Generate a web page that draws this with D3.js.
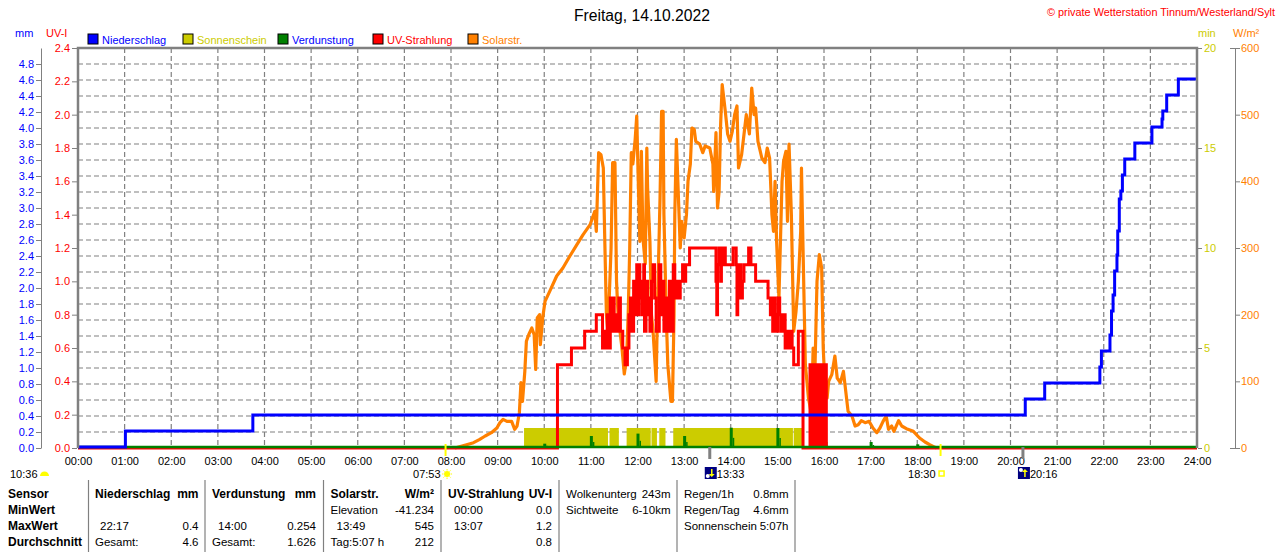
<!DOCTYPE html>
<html>
<head>
<meta charset="utf-8">
<script src="https://cdn.jsdelivr.net/npm/d3@7"></script>
<style>
body { margin: 0; background: #fff; }
svg { display: block; font-family: "Liberation Sans", Arial, sans-serif; }
</style>
</head>
<body>
<svg id="chart" width="1280" height="552"></svg>
<script>
// ===== Data =====
const titleText = "Freitag, 14.10.2022";
const copyrightText = "© private Wetterstation Tinnum/Westerland/Sylt";

const hourTicks = ["00:00","01:00","02:00","03:00","04:00","05:00","06:00","07:00","08:00","09:00","10:00","11:00",
  "12:00","13:00","14:00","15:00","16:00","17:00","18:00","19:00","20:00","21:00","22:00","23:00","24:00"];
const mmTicks = [0,0.2,0.4,0.6,0.8,1.0,1.2,1.4,1.6,1.8,2.0,2.2,2.4,2.6,2.8,3.0,3.2,3.4,3.6,3.8,4.0,4.2,4.4,4.6,4.8];
const uvTicks = [0,0.2,0.4,0.6,0.8,1.0,1.2,1.4,1.6,1.8,2.0,2.2,2.4];
const minTicks = [0,5,10,15,20];
const wTicks = [0,100,200,300,400,500,600];

const legendNames = ["Niederschlag","Sonnenschein","Verdunstung","UV-Strahlung","Solarstr."];

// Niederschlag, cumulative mm (step)
const rain = [["00:00",0],["01:01",0.2],["03:45",0.4],["20:19",0.6],["20:44",0.8],["21:55",1.0],["21:57",1.2],
  ["22:08",1.4],["22:10",1.7],["22:12",1.9],["22:14",2.2],["22:17",2.4],["22:18",2.7],["22:20",3.1],["22:22",3.2],
  ["22:24",3.4],["22:27",3.6],["22:40",3.8],["23:02",4.0],["23:15",4.1],["23:16",4.2],["23:21",4.4],["23:36",4.6],["24:00",4.6]];

// Sonnenschein periods (1 min per minute)
const sunshine = [["09:34","11:22"],["11:24","11:36"],["11:46","12:17"],["12:18","12:25"],["12:28","12:36"],
  ["12:46","15:20"],["15:21","15:33"],["16:00","16:04"]];

// Verdunstung, hourly mm
const evap = [["01:00",0.02],["02:00",0.02],["03:00",0.02],["04:00",0.02],["05:00",0.02],["06:00",0.02],["07:00",0.02],
  ["08:00",0.02],["09:00",0.02],["10:00",0.054],["11:00",0.15],["12:00",0.18],["13:00",0.15],["14:00",0.254],
  ["15:00",0.25],["16:00",0.15],["17:00",0.075],["18:00",0.046],["19:00",0.02],["20:00",0.02],["21:00",0.02],
  ["22:00",0.02],["23:00",0.02]];

// UV-Strahlung, UV-I (step)
const uv = [["00:00",0],["10:17",0.5],["10:35",0.6],["10:52",0.7],["11:07",0.8],
  ["11:15",0.6],["11:17",0.7],["11:19",0.6],["11:21",0.8],["11:23",0.6],["11:25",0.9],["11:27",0.7],["11:28",0.9],
  ["11:30",0.7],["11:32",0.8],["11:34",0.7],["11:36",0.9],["11:38",0.7],["11:41",0.6],["11:44",0.5],["11:47",0.6],
  ["11:49",0.8],["11:50",0.7],["11:51",0.9],["11:53",0.7],["11:55",1.0],["11:57",0.8],["11:59",1.1],["12:00",0.8],
  ["12:02",1.1],["12:03",0.9],["12:05",1.0],["12:06",0.8],["12:08",1.1],["12:09",0.7],["12:11",1.0],["12:13",0.8],
  ["12:14",0.9],["12:16",0.7],["12:18",1.0],["12:20",1.1],["12:22",0.9],["12:24",0.7],["12:28",1.1],["12:30",0.8],
  ["12:32",1.0],["12:34",0.7],["12:36",0.9],["12:38",0.7],["12:41",1.0],["12:43",0.7],["12:46",1.1],["12:48",0.9],
  ["12:50",1.0],["12:53",0.9],["12:55",1.0],["12:58",1.1],["13:00",1.0],["13:02",1.1],["13:07",1.2],
  ["13:41",1.0],["13:42",0.8],["13:43",1.1],["13:45",1.2],["13:47",1.0],["13:48",1.2],["13:50",1.1],["13:52",1.2],
  ["13:53",1.1],["14:03",1.2],["14:07",1.1],["14:08",0.8],["14:09",1.0],["14:10",0.9],["14:11",1.1],["14:13",0.9],
  ["14:15",1.0],["14:17",1.1],["14:23",1.2],["14:26",1.1],["14:32",1.0],["14:48",0.9],["14:51",0.8],["14:53",0.9],
  ["14:54",0.7],["14:56",0.9],["14:57",0.8],["14:59",0.7],["15:01",0.9],["15:03",0.8],["15:05",0.7],["15:08",0.8],
  ["15:10",0.6],["15:12",0.7],["15:14",0.6],["15:17",0.7],["15:19",0.6],["15:21",0.5],["15:27",0.7],["15:33",0],
  ["15:42",0.5],["15:44",0],["15:45",0.5],["15:47",0],["15:48",0.5],["15:50",0],["15:51",0.5],["15:53",0],
  ["15:54",0.5],["15:56",0],["15:57",0.5],["15:59",0],["16:00",0.5],["16:03",0],["24:00",0]];

// Solarstrahlung, W/m²
const solar = [["08:05",0],["08:20",5],["08:29",8],["08:37",13],["08:44",18],["08:52",23],["08:59",30],["09:03",38],
  ["09:07",43],["09:12",40],["09:18",40],["09:22",28],["09:25",33],["09:28",53],["09:30",98],["09:32",70],["09:35",115],
  ["09:37",160],["09:40",170],["09:44",180],["09:47",170],["09:49",118],["09:51",195],["09:54",200],["09:55",155],
  ["09:58",195],["10:01",220],["10:07",235],["10:16",258],["10:24",270],["10:33",288],["10:42",305],["10:50",320],
  ["10:59",335],["11:05",355],["11:07",325],["11:10",443],["11:13",440],["11:16",420],["11:18",306],["11:20",200],
  ["11:22",175],["11:26",300],["11:28",428],["11:31",428],["11:33",250],["11:35",200],["11:40",150],["11:43",111],
  ["11:46",135],["11:48",200],["11:50",300],["11:52",443],["11:54",426],["11:57",463],["11:59",498],["12:01",400],
  ["12:03",310],["12:05",445],["12:07",315],["12:10",276],["12:12",450],["12:13",390],["12:16",310],["12:18",200],
  ["12:20",175],["12:24",100],["12:26",225],["12:29",375],["12:31",505],["12:33",505],["12:34",350],["12:37",200],
  ["12:39",125],["12:43",70],["12:45",70],["12:47",200],["12:48",350],["12:50",463],["12:53",365],["12:55",300],
  ["12:57",340],["13:00",315],["13:03",350],["13:05",400],["13:08",426],["13:10",480],["13:13",478],["13:15",460],
  ["13:20",456],["13:24",443],["13:27",453],["13:33",450],["13:37",426],["13:38",385],["13:41",473],["13:43",360],
  ["13:45",385],["13:47",486],["13:49",545],["13:53",505],["13:56",471],["13:59",460],["14:02",475],["14:05",500],
  ["14:08",513],["14:10",420],["14:14",440],["14:18",480],["14:20",500],["14:24",471],["14:27",540],["14:30",500],
  ["14:32",510],["14:35",460],["14:40",435],["14:44",428],["14:47",450],["14:50",435],["14:53",350],["14:55",325],
  ["14:57",400],["14:59",310],["15:02",225],["15:06",400],["15:08",430],["15:11",445],["15:13",340],["15:15",456],
  ["15:18",350],["15:21",175],["15:24",205],["15:27",250],["15:30",325],["15:31",420],["15:33",300],["15:36",125],
  ["15:40",75],["15:44",50],["15:46",150],["15:48",100],["15:51",250],["15:54",290],["15:57",270],["15:59",150],
  ["16:01",100],["16:04",75],["16:06",100],["16:10",110],["16:14",138],["16:17",105],["16:21",98],["16:25",115],
  ["16:28",85],["16:31",55],["16:36",48],["16:40",33],["16:44",35],["16:48",41],["16:53",38],["16:58",40],
  ["17:03",30],["17:08",23],["17:12",30],["17:16",40],["17:20",48],["17:23",28],["17:27",33],["17:30",25],
  ["17:36",41],["17:40",33],["17:46",29],["17:55",25],["18:03",15],["18:10",9],["18:16",5],["18:23",1],["18:25",0]];

// Sun / moon events
const sunrise = "07:53", sunset = "18:30";
const moonEvents = [["13:33","set"],["20:16","rise"]];
const moonPrev = "10:36";

// Table
const tableRowNames = ["Sensor","MinWert","MaxWert","Durchschnitt"];
const tableNiederschlag = [["Niederschlag","mm"],["",""],["22:17","0.4"],["Gesamt:","4.6"]];
const tableVerdunstung = [["Verdunstung","mm"],["",""],["14:00","0.254"],["Gesamt:","1.626"]];
const tableSolar = [["Solarstr.","W/m²"],["Elevation","-41.234"],["13:49","545"],["Tag:5:07 h","212"]];
const tableUV = [["UV-Strahlung","UV-I"],["00:00","0.0"],["13:07","1.2"],["","0.8"]];
const tableWolken = [["Wolkenunterg","243m"],["Sichtweite","6-10km"],["",""],["",""]];
const tableRegen = [["Regen/1h","0.8mm"],["Regen/Tag","4.6mm"],["Sonnenschein","5:07h"],["",""]];

// ===== Layout =====
const C = { blue:"#0000ff", yellow:"#cccc00", green:"#008000", red:"#ff0000", orange:"#ff8000", grid:"#808080" };
const PL = 78, PR = 1197, PT = 48, PB = 448;
const toMin = s => { const [h, m] = s.split(":").map(Number); return h * 60 + m; };

const svg = d3.select("#chart");
const x = d3.scaleLinear().domain([0, 1440]).range([PL, PR]);
const yMM = d3.scaleLinear().domain([0, 5]).range([PB, PT]);
const yUV = d3.scaleLinear().domain([0, 2.4]).range([PB, PT]);
const yMin = d3.scaleLinear().domain([0, 20]).range([PB, PT]);
const yW = d3.scaleLinear().domain([0, 600]).range([PB, PT]);

// gridlines
const grid = svg.append("g").attr("stroke", C.grid).attr("stroke-width", 1.2).attr("stroke-dasharray", "5,3");
grid.selectAll("line.h").data(mmTicks.slice(1)).join("line").attr("class","h")
  .attr("x1", PL).attr("x2", PR).attr("y1", d => yMM(d)).attr("y2", d => yMM(d));
grid.selectAll("line.v").data(hourTicks.slice(1, -1)).join("line").attr("class","v")
  .attr("x1", d => x(toMin(d))).attr("x2", d => x(toMin(d))).attr("y1", PT).attr("y2", PB);

// Sonnenschein
svg.append("g").selectAll("rect").data(sunshine).join("rect")
  .attr("x", d => x(toMin(d[0]))).attr("width", d => x(toMin(d[1])) - x(toMin(d[0])))
  .attr("y", yMin(1)).attr("height", yMin(0) - yMin(1)).attr("fill", C.yellow);

// Verdunstung spikes
const ev = svg.append("g").attr("fill", C.green);
ev.selectAll("rect.t").data(evap).join("rect").attr("class","t")
  .attr("x", d => x(toMin(d[0])) - 1).attr("width", 3)
  .attr("y", d => yMM(d[1])).attr("height", d => yMM(0) - yMM(d[1]));
ev.selectAll("rect.s").data(evap).join("rect").attr("class","s")
  .attr("x", d => x(toMin(d[0])) + 2).attr("width", 1.5)
  .attr("y", d => yMM(d[1] / 2)).attr("height", d => yMM(0) - yMM(d[1] / 2));

// Solarstrahlung
svg.append("path").datum(solar)
  .attr("fill", "none").attr("stroke", C.orange).attr("stroke-width", 3.2).attr("stroke-linejoin", "round")
  .attr("d", d3.line().x(d => x(toMin(d[0]))).y(d => yW(d[1])));

// UV
svg.append("path").datum(uv)
  .attr("fill", "none").attr("stroke", C.red).attr("stroke-width", 3)
  .attr("d", d3.line().curve(d3.curveStepAfter).x(d => x(toMin(d[0]))).y(d => yUV(d[1])));

// green baseline
svg.append("line").attr("x1", PL).attr("x2", PR).attr("y1", PB - 1).attr("y2", PB - 1)
  .attr("stroke", C.green).attr("stroke-width", 2.5);

// Niederschlag
svg.append("path").datum(rain)
  .attr("fill", "none").attr("stroke", C.blue).attr("stroke-width", 3)
  .attr("d", d3.line().curve(d3.curveStepAfter).x(d => x(toMin(d[0]))).y(d => yMM(d[1]) - 1));

// frame
const frame = svg.append("g").attr("stroke", C.grid).attr("stroke-width", 2.5).attr("fill", "none");
frame.append("path").attr("d", `M${PL},${PB}V${PT}H${PR}V${PB}`);

// axes
function styleAxis(g, color) {
  g.selectAll(".tick line").attr("stroke", C.grid);
  g.selectAll(".tick text").attr("fill", color).attr("font-size", 11)
    .attr("font-family", "'Liberation Sans', Arial, sans-serif");
  g.select(".domain").attr("stroke", C.grid);
}
const axMM = svg.append("g").attr("transform", "translate(41,0)")
  .call(d3.axisLeft(yMM).tickValues(mmTicks).tickFormat(d3.format(".1f")).tickSize(5).tickPadding(2).tickSizeOuter(0));
styleAxis(axMM, C.blue);
const axUV = svg.append("g").attr("transform", `translate(${PL - 1},0)`)
  .call(d3.axisLeft(yUV).tickValues(uvTicks).tickFormat(d3.format(".1f")).tickSize(5).tickPadding(2).tickSizeOuter(0));
styleAxis(axUV, C.red);
axUV.select(".domain").remove();
const axMin = svg.append("g").attr("transform", `translate(${PR + 1},0)`)
  .call(d3.axisRight(yMin).tickValues(minTicks).tickSize(4).tickPadding(2).tickSizeOuter(0));
styleAxis(axMin, C.yellow);
axMin.select(".domain").remove();
const axW = svg.append("g").attr("transform", "translate(1235,0)")
  .call(d3.axisRight(yW).tickValues(wTicks).tickSize(5).tickPadding(1).tickSizeOuter(-5));
styleAxis(axW, C.orange);
const axX = svg.append("g").attr("transform", `translate(0,${PB})`)
  .call(d3.axisBottom(x).tickValues(hourTicks.map(toMin)).tickFormat((d, i) => hourTicks[i]).tickSize(0).tickPadding(9));
styleAxis(axX, "#000");
axX.select(".domain").remove();

// unit labels
const small = (t, xx, yy, col, anchor) => svg.append("text").attr("x", xx).attr("y", yy)
  .attr("fill", col).attr("font-size", 11).attr("text-anchor", anchor || "start").text(t);
small("mm", 15, 37, C.blue);
small("UV-I", 46, 37, C.red);
small("min", 1198, 37, C.yellow);
small("W/m²", 1233, 37, C.orange);

// title & copyright
svg.append("text").attr("x", 642).attr("y", 21).attr("text-anchor", "middle").attr("font-size", 16)
  .attr("textLength", 136).attr("lengthAdjust", "spacingAndGlyphs").text(titleText);
svg.append("text").attr("x", 1275).attr("y", 16).attr("text-anchor", "end").attr("font-size", 11)
  .attr("fill", C.red).attr("textLength", 228).attr("lengthAdjust", "spacingAndGlyphs").text(copyrightText);

// legend
const legendColors = [C.blue, C.yellow, C.green, C.red, C.orange];
const legendText = [C.blue, C.yellow, C.blue, C.red, C.orange];
const lg = svg.append("g").selectAll("g").data(legendNames).join("g")
  .attr("transform", (d, i) => `translate(${88 + i * 95},34)`);
lg.append("rect").attr("width", 10).attr("height", 10).attr("stroke", "#000").attr("stroke-width", 1)
  .attr("fill", (d, i) => legendColors[i]);
lg.append("text").attr("x", 14).attr("y", 10).attr("font-size", 11)
  .attr("fill", (d, i) => legendText[i]).text(d => d);

// sun / moon markers
const mk = svg.append("g");
[sunrise, sunset].forEach(t => {
  mk.append("line").attr("x1", x(toMin(t))).attr("x2", x(toMin(t))).attr("y1", 444).attr("y2", 456)
    .attr("stroke", "#ffff00").attr("stroke-width", 2);
});
moonEvents.forEach(([t]) => {
  mk.append("line").attr("x1", x(toMin(t))).attr("x2", x(toMin(t))).attr("y1", 447).attr("y2", 459)
    .attr("stroke", C.grid).attr("stroke-width", 3);
});
const lbl = (t, xx, anchor) => mk.append("text").attr("x", xx).attr("y", 478).attr("font-size", 11)
  .attr("text-anchor", anchor).text(t);
// sunrise
const xr = x(toMin(sunrise));
lbl(sunrise, xr - 5, "end");
mk.append("circle").attr("cx", xr + 1.5).attr("cy", 474).attr("r", 3).attr("fill", "#ffff00");
d3.range(8).forEach(k => {
  const a = k * Math.PI / 4;
  mk.append("line").attr("x1", xr + 1.5 + Math.cos(a) * 3.5).attr("y1", 474 + Math.sin(a) * 3.5)
    .attr("x2", xr + 1.5 + Math.cos(a) * 5).attr("y2", 474 + Math.sin(a) * 5)
    .attr("stroke", "#ffff00").attr("stroke-width", 1);
});
// sunset
const xs = x(toMin(sunset));
lbl(sunset, xs - 5, "end");
mk.append("rect").attr("x", xs - 1.5).attr("y", 471).attr("width", 5).attr("height", 5)
  .attr("fill", "none").attr("stroke", "#ffff00").attr("stroke-width", 1.5);
// moon
moonEvents.forEach(([t, kind]) => {
  const xm = x(toMin(t));
  mk.append("rect").attr("x", xm - 5).attr("y", 467).attr("width", 12).attr("height", 12).attr("fill", "#000080");
  mk.append("circle").attr("cx", xm - 2).attr("cy", kind === "set" ? 476 : 470).attr("r", 2).attr("fill", "#fff");
  const ay0 = kind === "set" ? 469 : 477, ay1 = kind === "set" ? 476 : 470;
  mk.append("line").attr("x1", xm + 2).attr("x2", xm + 2).attr("y1", ay0).attr("y2", ay1)
    .attr("stroke", "#ffff00").attr("stroke-width", 1.5);
  mk.append("path").attr("fill", "#ffff00")
    .attr("d", kind === "set" ? `M${xm - 1},${ay1 - 2}L${xm + 5},${ay1 - 2}L${xm + 2},${ay1 + 1}Z`
                              : `M${xm - 1},${ay1 + 2}L${xm + 5},${ay1 + 2}L${xm + 2},${ay1 - 1}Z`);
  lbl(t, xm + 7, "start");
});
lbl(moonPrev, 10, "start");
mk.append("path").attr("d", "M40,476A4.5,4.5 0 0 1 49,476Z").attr("fill", "#ffff00");

// table
const tb = svg.append("g");
[88.5, 205, 323.5, 441, 559, 677, 795].forEach(xx => {
  tb.append("line").attr("x1", xx).attr("x2", xx).attr("y1", 480).attr("y2", 552)
    .attr("stroke", C.grid).attr("stroke-width", 1.2);
});
const rowY = [498, 514, 530, 546];
tableRowNames.forEach((n, i) => tb.append("text").attr("x", 8).attr("y", rowY[i])
  .attr("font-size", 12).attr("font-weight", "bold").text(n));
const groups = [
  { rows: tableNiederschlag, lx: 95, rx: 198.5, boldHead: true, inset: 5 },
  { rows: tableVerdunstung, lx: 212, rx: 316, boldHead: true, inset: 6 },
  { rows: tableSolar, lx: 330.5, rx: 434, boldHead: true, inset: 6 },
  { rows: tableUV, lx: 448, rx: 552, boldHead: true, inset: 6 },
  { rows: tableWolken, lx: 566, rx: 670.5, boldHead: false, inset: 0 },
  { rows: tableRegen, lx: 684, rx: 788.5, boldHead: false, inset: 0 }
];
groups.forEach(g => {
  g.rows.forEach((r, i) => {
    const head = i === 0 && g.boldHead;
    const indent = (!head && /^\d\d:\d\d$/.test(r[0])) ? g.inset : 0;
    tb.append("text").attr("x", g.lx + indent).attr("y", rowY[i])
      .attr("font-size", head ? 12 : 11.5).attr("font-weight", head ? "bold" : "normal").text(r[0]);
    tb.append("text").attr("x", g.rx).attr("y", rowY[i]).attr("text-anchor", "end")
      .attr("font-size", head ? 12 : 11.5).attr("font-weight", head ? "bold" : "normal").text(r[1]);
  });
});
</script>
</body>
</html>
